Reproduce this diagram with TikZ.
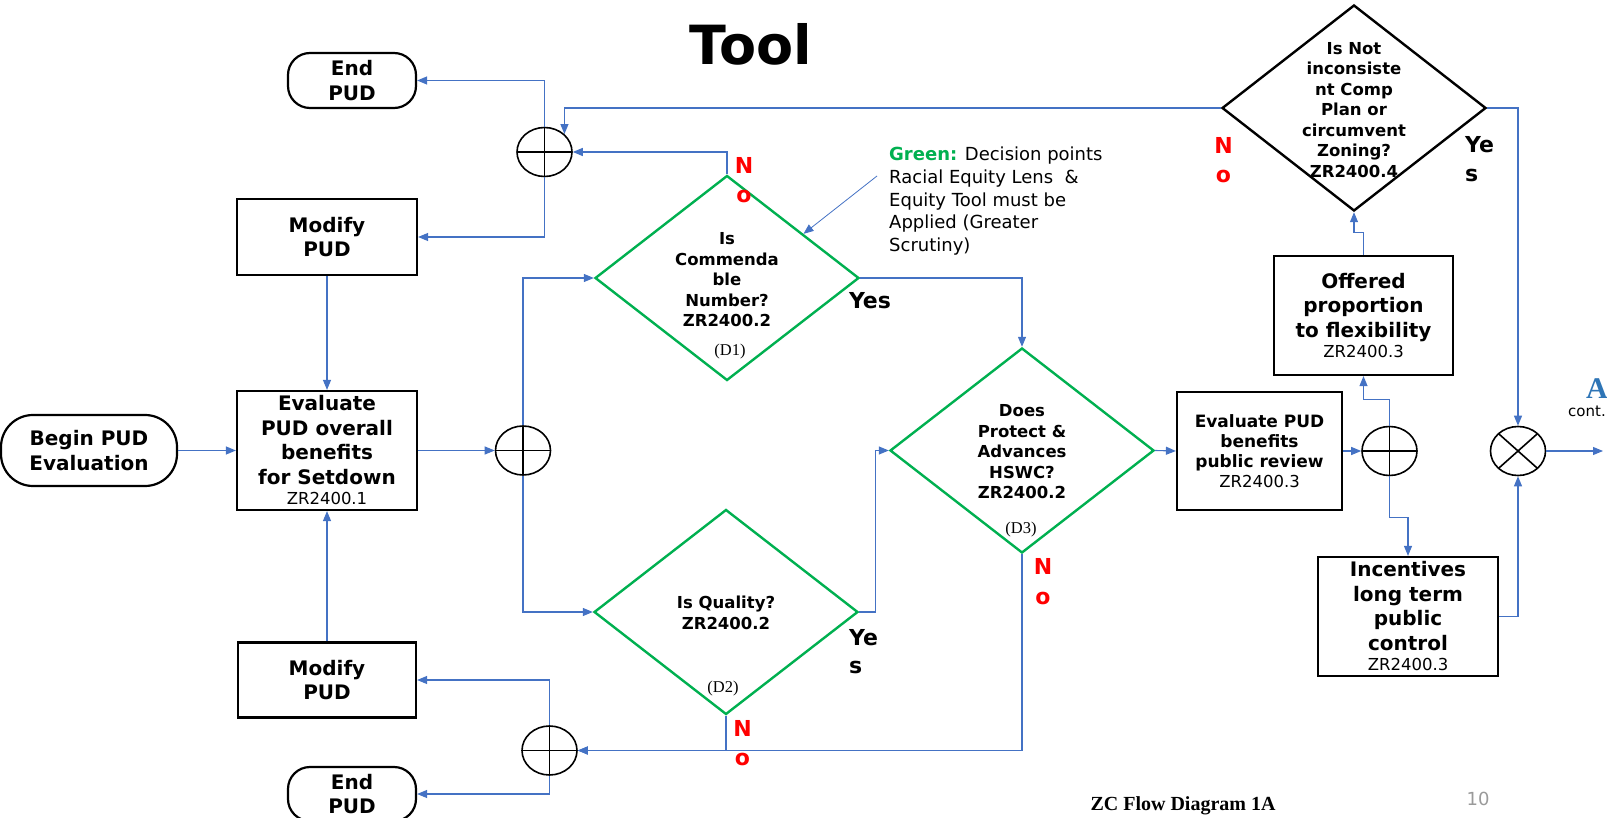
\documentclass[tikz,border=0pt]{standalone}
\usepackage{fontspec}
\setmainfont{DejaVu Sans}
\newfontfamily\timesfont{Liberation Serif}
\usetikzlibrary{arrows.meta,shapes.geometric}
\definecolor{lineblue}{HTML}{4472C4}
\definecolor{decgreen}{HTML}{00B050}
\definecolor{ablue}{HTML}{2E75B6}
\definecolor{pagegray}{HTML}{9A9A9A}
\newcommand\zrline[1]{{\mdseries\fontsize{16.5}{18}\selectfont #1}}

\begin{document}
\begin{tikzpicture}[x=1pt,y=-1pt,
  conn/.style={draw=lineblue,line width=1.1pt,-{Triangle[length=10pt,width=8pt]}},
  box/.style={draw,line width=2.2pt,inner sep=0,align=center,font=\bfseries\fontsize{20}{24.5}\selectfont},
  term/.style={box,minimum width=128pt,rounded corners=22pt},
  decide/.style={diamond,draw=decgreen,line width=2.4pt,inner sep=0,minimum width=264pt,minimum height=205pt},
  qtext/.style={align=center,inner sep=0,font=\bfseries\fontsize{16.5}{20.5}\selectfont},
  dtag/.style={inner sep=0,font=\timesfont\fontsize{16.5}{18}\selectfont},
  junc/.style={ellipse,draw,line width=1.6pt,inner sep=0,minimum width=55pt,minimum height=49pt},
  sumjunc/.style={junc,path picture={\draw[line width=1.6pt](path picture bounding box.north)--(path picture bounding box.south)(path picture bounding box.west)--(path picture bounding box.east);}},
  prodjunc/.style={junc,path picture={\draw[line width=1.6pt](path picture bounding box.north west)--(path picture bounding box.south east)(path picture bounding box.south west)--(path picture bounding box.north east);}},
  nolab/.style={text=red,align=center,inner sep=0,font=\bfseries\fontsize{22}{29.5}\selectfont},
  yeslab/.style={align=left,inner sep=0,font=\bfseries\fontsize{22}{28.5}\selectfont}]
\useasboundingbox(0,0)rectangle(1607,818);
\node[anchor=base,font=\bfseries\fontsize{54}{60}\selectfont](title)at(750.5,65){Tool};
\node[term,minimum height=55pt](endtop)at(352,80.5){End\\PUD};
\node[box,minimum width=180pt,minimum height=76pt](modtop)at(327,237){Modify\\PUD};
\node[term,minimum width=176pt,minimum height=71pt,rounded corners=32pt](begin)at(89,450.5){Begin PUD\\Evaluation};
\node[box,minimum width=180pt,minimum height=119pt](eval)at(327,450.5){Evaluate\\PUD overall\\benefits\\for Setdown\\[-4pt]\zrline{ZR2400.1}};
\node[box,minimum width=178pt,minimum height=75pt](modbot)at(327,680){Modify\\PUD};
\node[term,minimum height=54pt](endbot)at(352,794){End\\PUD};
\node[sumjunc](c1)at(544.5,152){};\node[sumjunc](c2)at(523,450.5){};
\node[sumjunc](c3)at(549.5,750.5){};\node[sumjunc](c4)at(1389.5,451){};
\node[prodjunc](c5)at(1518,451){};
\node[decide](d1)at(727,278){};\node[decide](d2)at(726,612){};\node[decide](d3)at(1022,450.5){};
\node[decide,draw=black,minimum height=206pt](d4)at(1354,108){};
\node[qtext](d1q)at(727,280){Is\\Commenda\\ble\\Number?\\ZR2400.2};
\node[qtext](d2q)at(726,613){Is Quality?\\ZR2400.2};
\node[qtext](d3q)at(1022,452){Does\\Protect \&\\Advances\\HSWC?\\ZR2400.2};
\node[qtext](d4q)at(1354,110){Is Not\\inconsiste\\nt Comp\\Plan or\\circumvent\\Zoning?\\ZR2400.4};
\node[dtag](d1tag)at(730,352){(D1)};\node[dtag](d2tag)at(723,689){(D2)};\node[dtag](d3tag)at(1021,530){(D3)};
\node[box,minimum width=165pt,minimum height=118pt,font=\bfseries\fontsize{17}{20}\selectfont](evalpub)at(1259.5,451){Evaluate PUD\\benefits\\public review\\\zrline{ZR2400.3}};
\node[box,minimum width=179pt,minimum height=119pt](offer)at(1363.5,315.5){Offered\\proportion\\to flexibility\\[-4pt]\zrline{ZR2400.3}};
\node[box,minimum width=180pt,minimum height=119pt](incent)at(1408,616.5){Incentives\\long term\\public\\control\\[-4pt]\zrline{ZR2400.3}};
\node[nolab](d1no)at(744,180){N\\o};\node[nolab](d2no)at(742.5,743){N\\o};
\node[nolab](d3no)at(1043,581.5){N\\o};\node[nolab](d4no)at(1223.5,160){N\\o};
\node[inner sep=0,font=\bfseries\fontsize{22}{26}\selectfont](d1yes)at(870,301){Yes};
\node[yeslab,anchor=west](d2yes)at(849,651.5){Ye\\s};\node[yeslab,anchor=west](d4yes)at(1465,159){Ye\\s};
\node[anchor=north west,align=left,inner sep=0,font=\fontsize{18}{22.7}\selectfont](note)at(889,147){\textcolor{decgreen}{\bfseries Green:} Decision points\\Racial Equity Lens \ \&\\Equity Tool must be\\Applied (Greater\\Scrutiny)};
\node[anchor=base,inner sep=0,text=ablue,font=\timesfont\bfseries\fontsize{30}{32}\selectfont](contA)at(1597,399){A};
\node[anchor=base,inner sep=0,font=\fontsize{15}{17}\selectfont](contlab)at(1587,417){cont.};
\node[anchor=base,inner sep=0,font=\timesfont\bfseries\fontsize{20}{24}\selectfont](foot)at(1183,810){ZC Flow Diagram 1A};
\node[anchor=base,inner sep=0,text=pagegray,font=\fontsize{18}{20}\selectfont](pgno)at(1478,805.5){10};
\coordinate(aout)at(1603,451);\coordinate(notetail)at(877,176);
\draw[conn](begin.east)--(eval.west);\draw[conn](eval.east)--(c2.west);
\draw[conn](c2.north)|-(d1.west);\draw[conn](c2.south)|-(d2.west);
\draw[conn](d1.east)-|(d3.north);\draw[conn](d2.east)--++(16,0)|-(d3.west);
\draw[conn](d3.east)--(evalpub.west);\draw[conn](evalpub.east)--(c4.west);
\draw[conn](c4.north)--++(0,-26)-|(offer.south);\draw[conn](offer.north)--++(0,-22)-|(d4.south);
\draw[conn](c4.south)--++(0,41)-|(incent.north);\draw[conn](incent.east)-|(c5.south);
\draw[conn](d4.east)-|(c5.north);\draw[conn](c5.east)--(aout);
\draw[conn](d4.west)-|(c1.42);\draw[conn](d1.north)|-(c1.east);
\draw[conn](c1.south)|-(modtop.east);\draw[conn](c1.north)|-(endtop.east);
\draw[conn](modtop.south)--(eval.north);\draw[conn](modbot.north)--(eval.south);
\draw[conn](c3.north)|-(modbot.east);\draw[conn](c3.south)|-(endbot.east);
\draw[conn](d2.south)|-(c3.east);\draw[conn](d3.south)|-(c3.east);
\draw[conn,line width=.8pt](notetail)--(d1.30);
\end{tikzpicture}
\end{document}
